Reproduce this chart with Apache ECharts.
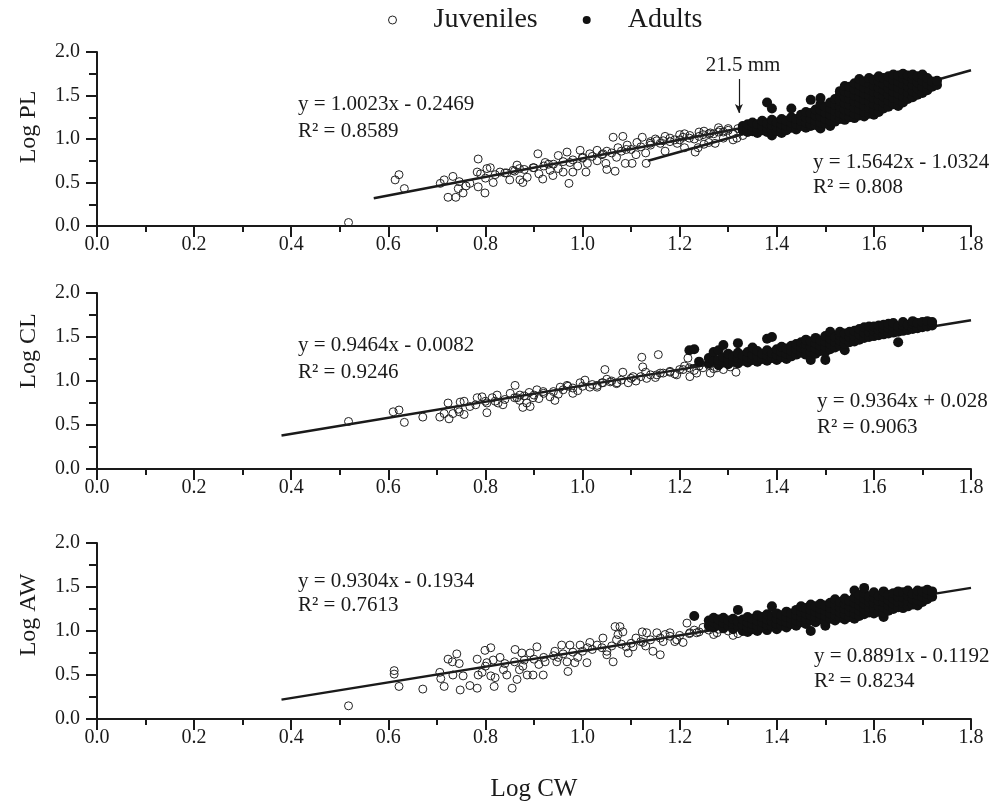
<!DOCTYPE html>
<html>
<head>
<meta charset="utf-8">
<script src="https://cdn.jsdelivr.net/npm/echarts@6/dist/echarts.min.js"></script>
<style>html,body{margin:0;padding:0;background:#fff}#c{width:998px;height:810px}</style>
</head>
<body>
<div id="c"></div>
<script>
// ---- tick labels / axes ----
const xTicks = [0.0, 0.2, 0.4, 0.6, 0.8, 1.0, 1.2, 1.4, 1.6, 1.8];
const yTicks = [0.0, 0.5, 1.0, 1.5, 2.0];
const yNames = ['Log PL', 'Log CL', 'Log AW'];
const xName = 'Log CW';

// ---- Juveniles: [Log CW, Log y] ----
const juvPL = [[0.518,0.04],[0.614,0.53],[0.622,0.59],[0.633,0.43],[0.707,0.49],[0.715,0.53],[0.723,0.33],[0.733,0.57],[0.739,0.33],[0.746,0.51],[0.744,0.43],[0.754,0.38],[0.768,0.49],[0.785,0.77],[0.783,0.62],[0.785,0.45],[0.799,0.38],[0.803,0.66],[0.81,0.67],[0.816,0.50],[0.83,0.62],[0.844,0.61],[0.857,0.64],[0.865,0.70],[0.871,0.53],[0.877,0.50],[0.886,0.56],[0.898,0.67],[0.908,0.83],[0.918,0.54],[0.923,0.73],[0.933,0.64],[0.939,0.58],[0.95,0.81],[0.96,0.62],[0.968,0.85],[0.972,0.49],[0.974,0.73],[0.98,0.62],[0.995,0.87],[1.0,0.79],[1.007,0.62],[1.015,0.83],[1.03,0.87],[1.042,0.83],[1.048,0.72],[1.05,0.65],[1.067,0.63],[1.063,1.02],[1.073,0.90],[1.083,1.03],[1.088,0.72],[1.092,0.93],[1.102,0.72],[1.112,0.96],[1.123,1.02],[1.131,0.72],[1.139,0.95],[1.153,0.98],[1.166,0.98],[1.18,1.01],[1.195,0.95],[1.207,1.02],[1.221,1.04],[1.232,0.85],[1.238,0.90],[1.248,1.05],[1.263,1.07],[1.273,0.95],[1.283,1.10],[1.29,1.01],[1.30,1.12],[1.31,1.06],[1.318,1.01],
[0.82,0.59],[0.84,0.61],[0.86,0.63],[0.88,0.65],[0.90,0.67],[0.92,0.69],[0.94,0.71],[0.96,0.74],[0.98,0.76],[1.00,0.78],[1.02,0.80],[1.04,0.82],[1.06,0.84],[1.08,0.86],[1.10,0.88],[1.12,0.91],[1.14,0.93],[1.16,0.95],[1.18,0.97],[1.20,0.99],[1.22,1.01],[1.24,1.03],[1.26,1.06],[1.28,1.08],[1.30,1.10],[1.32,1.12],[1.15,1.00],[1.19,0.99],[1.23,1.00],[1.27,1.06],[1.25,0.94],[1.21,0.90],[1.17,0.86],[1.13,0.84],[0.76,0.46],[0.80,0.55],[0.79,0.60],[0.85,0.53],[0.87,0.66],[0.91,0.60],[0.93,0.71],[0.95,0.66],[0.99,0.69],[1.01,0.72],[1.03,0.75],[1.05,0.86],[1.07,0.79],[1.09,0.88],[1.11,0.82],[1.20,1.05],[1.26,0.96],[1.29,1.08],[1.33,1.04],[1.31,0.99],[1.17,1.03],[1.21,1.06],[1.25,1.09],[1.28,1.13],[1.14,0.97],[1.24,1.08]];

const juvCL = [[0.518,0.54],[0.61,0.65],[0.622,0.67],[0.633,0.53],[0.671,0.59],[0.706,0.59],[0.715,0.63],[0.723,0.75],[0.725,0.57],[0.733,0.63],[0.744,0.68],[0.746,0.65],[0.748,0.76],[0.756,0.77],[0.756,0.62],[0.768,0.71],[0.783,0.81],[0.793,0.82],[0.803,0.64],[0.803,0.75],[0.814,0.81],[0.824,0.84],[0.826,0.75],[0.836,0.73],[0.851,0.86],[0.861,0.95],[0.865,0.81],[0.871,0.84],[0.877,0.70],[0.885,0.75],[0.892,0.71],[0.898,0.81],[0.906,0.90],[0.919,0.88],[0.933,0.82],[0.943,0.78],[0.954,0.93],[0.968,0.95],[0.98,0.86],[0.995,0.98],[1.005,1.01],[1.015,0.93],[1.03,0.93],[1.042,0.98],[1.046,1.13],[1.057,0.99],[1.071,0.98],[1.083,1.10],[1.094,0.98],[1.104,1.05],[1.122,1.27],[1.124,1.16],[1.132,1.03],[1.156,1.30],[1.153,1.07],[1.166,1.09],[1.18,1.10],[1.194,1.07],[1.207,1.13],[1.217,1.26],[1.221,1.05],[1.235,1.09],[1.248,1.15],[1.263,1.09],[1.277,1.15],[1.29,1.13],[1.304,1.16],[1.316,1.10],
[0.78,0.73],[0.80,0.77],[0.82,0.77],[0.84,0.79],[0.86,0.81],[0.88,0.83],[0.90,0.84],[0.92,0.86],[0.94,0.88],[0.96,0.90],[0.98,0.92],[1.00,0.94],[1.02,0.96],[1.04,0.98],[1.06,1.00],[1.08,1.01],[1.10,1.03],[1.12,1.05],[1.14,1.07],[1.16,1.09],[1.18,1.11],[1.20,1.13],[1.22,1.15],[1.24,1.17],[1.26,1.18],[1.28,1.20],[1.30,1.22],[0.87,0.78],[0.91,0.80],[0.95,0.85],[0.99,0.89],[1.03,0.95],[1.07,0.97],[1.11,1.00],[1.15,1.04],[1.19,1.08],[1.23,1.12],[1.27,1.14],[0.89,0.87],[0.97,0.94],[1.05,1.02],[1.13,1.10],[1.21,1.17]];

const juvAW = [[0.518,0.15],[0.612,0.55],[0.612,0.51],[0.622,0.37],[0.671,0.34],[0.706,0.53],[0.708,0.46],[0.715,0.37],[0.723,0.68],[0.732,0.65],[0.733,0.50],[0.741,0.74],[0.746,0.63],[0.748,0.33],[0.754,0.49],[0.768,0.38],[0.783,0.68],[0.783,0.35],[0.785,0.50],[0.799,0.78],[0.793,0.53],[0.803,0.64],[0.811,0.81],[0.811,0.49],[0.816,0.67],[0.818,0.37],[0.82,0.47],[0.837,0.56],[0.844,0.50],[0.855,0.35],[0.861,0.79],[0.865,0.45],[0.875,0.75],[0.877,0.60],[0.886,0.50],[0.892,0.75],[0.898,0.50],[0.906,0.82],[0.919,0.50],[0.923,0.65],[0.943,0.77],[0.947,0.65],[0.957,0.84],[0.968,0.65],[0.97,0.54],[0.974,0.84],[0.984,0.64],[0.995,0.84],[1.009,0.64],[1.015,0.87],[1.03,0.84],[1.042,0.92],[1.05,0.73],[1.063,0.65],[1.067,1.05],[1.077,1.05],[1.073,0.96],[1.083,0.99],[1.09,0.82],[1.094,0.75],[1.104,0.82],[1.123,0.99],[1.125,0.87],[1.132,0.98],[1.145,0.77],[1.153,0.98],[1.16,0.73],[1.166,0.88],[1.18,0.98],[1.194,0.90],[1.207,0.87],[1.215,1.09],[1.221,0.98],[1.235,0.98],[1.248,1.04],[1.263,1.05],[1.277,0.98],[1.29,1.04],[1.31,0.95],
[0.80,0.60],[0.84,0.63],[0.86,0.65],[0.88,0.67],[0.90,0.68],[0.92,0.70],[0.94,0.72],[0.96,0.74],[0.98,0.76],[1.00,0.77],[1.02,0.79],[1.04,0.81],[1.06,0.83],[1.08,0.85],[1.10,0.86],[1.12,0.88],[1.14,0.90],[1.16,0.92],[1.18,0.94],[1.20,0.95],[1.22,0.97],[1.24,0.99],[1.26,1.01],[1.28,1.02],[0.83,0.70],[0.87,0.56],[0.91,0.62],[0.95,0.70],[0.99,0.70],[1.01,0.81],[1.05,0.77],[1.07,0.90],[1.11,0.92],[1.13,0.83],[1.17,0.96],[1.19,0.88],[1.23,1.01],[1.27,0.96],[1.30,1.00],[1.32,0.97]];

// ---- Adults: columns [Log CW, y1, y2, ...] ----
const adultsPL = [[1.33,1.10,1.15],[1.34,1.08,1.12,1.17],[1.35,1.09,1.14,1.19],[1.36,1.07,1.12,1.17],[1.37,1.10,1.15,1.21],[1.38,1.08,1.13,1.18,1.42],[1.39,1.04,1.10,1.16,1.22,1.35],[1.40,1.09,1.14,1.19],[1.41,1.07,1.12,1.17,1.23],[1.42,1.10,1.15,1.21],[1.43,1.13,1.19,1.25,1.35],[1.44,1.11,1.17,1.23],[1.45,1.15,1.21,1.28],[1.46,1.13,1.19,1.25,1.31],[1.47,1.15,1.17,1.23,1.30,1.45],[1.48,1.16,1.21,1.27,1.34],[1.49,1.12,1.19,1.26,1.33,1.40,1.47],[1.50,1.18,1.23,1.30,1.37],[1.51,1.15,1.21,1.28,1.35,1.42],[1.52,1.20,1.25,1.32,1.39,1.46],[1.53,1.23,1.30,1.37,1.44,1.51,1.55],[1.54,1.22,1.27,1.34,1.41,1.48,1.55,1.61],[1.55,1.25,1.32,1.39,1.46,1.53,1.60],[1.56,1.24,1.29,1.36,1.43,1.50,1.57,1.64],[1.57,1.27,1.34,1.41,1.48,1.55,1.62,1.69],[1.58,1.26,1.31,1.38,1.45,1.52,1.59,1.66],[1.59,1.29,1.36,1.43,1.50,1.57,1.64,1.70],[1.60,1.28,1.33,1.40,1.47,1.54,1.61,1.68],[1.61,1.31,1.38,1.45,1.52,1.59,1.66,1.72],[1.62,1.35,1.42,1.49,1.56,1.63,1.70],[1.63,1.37,1.44,1.51,1.58,1.65,1.72],[1.64,1.40,1.47,1.54,1.61,1.68,1.74],[1.65,1.38,1.45,1.52,1.59,1.66,1.73],[1.66,1.42,1.49,1.56,1.63,1.70,1.75],[1.67,1.46,1.53,1.60,1.67,1.73],[1.68,1.48,1.55,1.62,1.69,1.74],[1.69,1.51,1.58,1.65,1.72],[1.70,1.53,1.60,1.67,1.74],[1.71,1.56,1.63,1.70],[1.72,1.60,1.66],[1.73,1.62,1.67]];

const adultsCL = [[1.22,1.35],[1.23,1.36],[1.24,1.22],[1.26,1.20,1.26],[1.27,1.23,1.33],[1.28,1.18,1.24,1.35],[1.29,1.21,1.27,1.41],[1.30,1.19,1.25,1.31],[1.31,1.22,1.28],[1.32,1.20,1.26,1.32,1.43],[1.33,1.23,1.29],[1.34,1.21,1.27,1.33],[1.35,1.24,1.30,1.38],[1.36,1.22,1.28,1.34],[1.37,1.25,1.31],[1.38,1.23,1.29,1.35,1.48],[1.39,1.26,1.32,1.50],[1.40,1.24,1.30,1.36],[1.41,1.27,1.33,1.39],[1.42,1.25,1.31,1.37],[1.43,1.28,1.34,1.40],[1.44,1.30,1.36,1.42],[1.45,1.32,1.38,1.44],[1.46,1.30,1.36,1.42,1.47],[1.47,1.24,1.33,1.39,1.45],[1.48,1.31,1.37,1.43,1.49],[1.49,1.34,1.40,1.46],[1.50,1.24,1.33,1.39,1.45,1.51],[1.51,1.36,1.42,1.48,1.56],[1.52,1.38,1.44,1.50],[1.53,1.40,1.46,1.52,1.56],[1.54,1.35,1.42,1.48,1.54],[1.55,1.44,1.50,1.56],[1.56,1.45,1.51,1.57],[1.57,1.47,1.53,1.59],[1.58,1.49,1.55,1.61],[1.59,1.50,1.56,1.62],[1.60,1.51,1.57,1.62],[1.61,1.52,1.58,1.63],[1.62,1.53,1.59,1.64],[1.63,1.54,1.60,1.65],[1.64,1.55,1.61,1.66],[1.65,1.44,1.56,1.62],[1.66,1.57,1.63,1.67],[1.67,1.58,1.64],[1.68,1.59,1.65,1.68],[1.69,1.60,1.66],[1.70,1.61,1.67],[1.71,1.62,1.68],[1.72,1.63,1.67]];

const adultsAW = [[1.23,1.17],[1.26,1.06,1.12],[1.27,1.04,1.10,1.15],[1.28,1.07,1.13],[1.29,1.03,1.09,1.15],[1.30,1.06,1.12],[1.31,1.02,1.08,1.14],[1.32,1.05,1.11,1.24],[1.33,1.00,1.07,1.13],[1.34,0.99,1.04,1.10,1.16],[1.35,1.02,1.08,1.14],[1.36,1.00,1.06,1.12,1.18],[1.37,1.04,1.10,1.16],[1.38,1.01,1.07,1.13,1.19],[1.39,1.05,1.11,1.17,1.28],[1.40,1.02,1.08,1.14,1.20],[1.41,1.06,1.12,1.18],[1.42,1.04,1.10,1.16,1.22],[1.43,1.08,1.14,1.20],[1.44,1.06,1.12,1.18,1.24],[1.45,1.10,1.16,1.22,1.28],[1.46,1.08,1.14,1.20,1.26],[1.47,1.00,1.12,1.18,1.24,1.30],[1.48,1.10,1.16,1.22,1.28],[1.49,1.13,1.19,1.25,1.31],[1.50,1.06,1.11,1.17,1.23,1.29],[1.51,1.14,1.20,1.26,1.32],[1.52,1.12,1.18,1.24,1.30,1.36],[1.53,1.15,1.21,1.27,1.33],[1.54,1.13,1.19,1.25,1.31,1.37],[1.55,1.16,1.22,1.28,1.34],[1.56,1.14,1.20,1.26,1.32,1.38,1.46],[1.57,1.17,1.23,1.29,1.35,1.41],[1.58,1.19,1.25,1.31,1.37,1.43,1.49],[1.59,1.21,1.27,1.33,1.39],[1.60,1.20,1.26,1.32,1.38,1.44],[1.61,1.22,1.28,1.34,1.40],[1.62,1.16,1.21,1.27,1.33,1.39,1.45],[1.63,1.23,1.29,1.35,1.41],[1.64,1.25,1.31,1.37,1.43],[1.65,1.27,1.33,1.39,1.45],[1.66,1.26,1.32,1.38,1.44],[1.67,1.28,1.34,1.40,1.46],[1.68,1.30,1.36,1.42],[1.69,1.29,1.35,1.41,1.46],[1.70,1.33,1.39,1.45],[1.71,1.36,1.42,1.47],[1.72,1.39,1.45]];

// ---- fitted lines (endpoints) ----
const fitJuv = [[[0.57,0.32],[1.33,1.13]], [[0.38,0.38],[1.32,1.24]], [[0.38,0.22],[1.30,1.04]]];
const fitAd  = [[[1.135,0.75],[1.80,1.79]], [[1.22,1.17],[1.80,1.69]], [[1.26,1.01],[1.80,1.49]]];

// ---- equation texts ----
const eqJuv = [['y = 1.0023x - 0.2469','R\u00B2 = 0.8589'],['y = 0.9464x - 0.0082','R\u00B2 = 0.9246'],['y = 0.9304x - 0.1934','R\u00B2 = 0.7613']];
const eqAd  = [['y = 1.5642x - 1.0324','R\u00B2 = 0.808'],['y = 0.9364x + 0.028','R\u00B2 = 0.9063'],['y = 0.8891x - 0.1192','R\u00B2 = 0.8234']];
const breakLabel = '21.5 mm';
const breakX = 1.322;

function flatten(cols){ const out=[]; cols.forEach(c=>{ for(let i=1;i<c.length;i++) out.push([c[0],c[i]]); }); return out; }
const juv = [juvPL, juvCL, juvAW];
const adults = [flatten(adultsPL), flatten(adultsCL), flatten(adultsAW)];

const FONT = '"Liberation Serif","Times New Roman",serif';
const INK = '#1a1a1a';
const grids = [
  {left:97, width:874, top:52, height:174},
  {left:97, width:874, top:293, height:176},
  {left:97, width:874, top:543, height:176}
];
const namePad = [24, 60, 32];

const xAxes = grids.map((g,i)=>({
  type:'value', gridIndex:i, min:xTicks[0], max:xTicks[xTicks.length-1], interval:0.2,
  axisLine:{onZero:false, lineStyle:{color:INK, width:2}},
  axisTick:{show:true, length:11, lineStyle:{color:INK, width:2}},
  minorTick:{show:true, splitNumber:2, length:6, lineStyle:{color:INK, width:2}},
  splitLine:{show:false}, minorSplitLine:{show:false},
  axisLabel:{margin:9, fontSize:20, fontFamily:FONT, color:INK, formatter:v=>v.toFixed(1)},
  name: i===2 ? xName : '', nameLocation:'middle', nameGap:58,
  nameTextStyle:{fontSize:25, fontFamily:FONT, color:INK}
}));
const yAxes = grids.map((g,i)=>({
  type:'value', gridIndex:i, min:yTicks[0], max:yTicks[yTicks.length-1], interval:0.5,
  axisLine:{onZero:false, lineStyle:{color:INK, width:2}},
  axisTick:{show:true, length:11, lineStyle:{color:INK, width:2}},
  minorTick:{show:true, splitNumber:2, length:8, lineStyle:{color:INK, width:2}},
  splitLine:{show:false}, minorSplitLine:{show:false},
  axisLabel:{margin:17, fontSize:20, fontFamily:FONT, color:INK, formatter:v=>v.toFixed(1)},
  name: yNames[i], nameLocation:'middle', nameGap:56, nameRotate:90,
  nameTextStyle:{fontSize:24, fontFamily:FONT, color:INK, padding:[0,0,0,namePad[i]]}
}));

const series = [];
for (let i=0;i<3;i++){
  series.push({name:'Juvenile fit '+(i+1), type:'line', xAxisIndex:i, yAxisIndex:i, data:fitJuv[i], symbol:'none', silent:true,
    lineStyle:{color:INK, width:2.5}, z:2});
  series.push({name:'Adult fit '+(i+1), type:'line', xAxisIndex:i, yAxisIndex:i, data:fitAd[i], symbol:'none', silent:true,
    lineStyle:{color:INK, width:2.5}, z:2});
  series.push({name:'Juveniles', type:'scatter', xAxisIndex:i, yAxisIndex:i, data:juv[i], symbol:'circle', symbolSize:8,
    itemStyle:{color:'rgba(255,255,255,0)', borderColor:'#222', borderWidth:1, opacity:1}, z:3});
  const ad = {name:'Adults', type:'scatter', xAxisIndex:i, yAxisIndex:i, data:adults[i], symbol:'circle', symbolSize:10,
    itemStyle:{color:'#111', opacity:1}, z:4};
  if (i===0){
    ad.markLine = {silent:true, symbol:['none','arrow'], symbolSize:[6,9], label:{show:false},
      lineStyle:{color:INK, width:1.2, type:'solid', opacity:1},
      data:[[{coord:[breakX,1.69]},{coord:[breakX,1.30]}]]};
  }
  series.push(ad);
}

const txt = (text, x, y, align) => ({type:'text', x:0, y:0, silent:true, style:{text, x, y, font:'21px '+FONT, fill:INK,
  textAlign:align||'left', align:align||'left', textVerticalAlign:'middle', verticalAlign:'middle'}});
const eqPos = [
  {jx:298, jy:[104,131], ax:813, ay:[162,187]},
  {jx:298, jy:[345,372], ax:817, ay:[401,427]},
  {jx:298, jy:[581,605], ax:814, ay:[656,681]}
];
const graphics = [];
eqPos.forEach((p,i)=>{
  graphics.push(txt(eqJuv[i][0], p.jx, p.jy[0]));
  graphics.push(txt(eqJuv[i][1], p.jx, p.jy[1]));
  graphics.push(txt(eqAd[i][0], p.ax, p.ay[0]));
  graphics.push(txt(eqAd[i][1], p.ax, p.ay[1]));
});
graphics.push(txt(breakLabel, 743, 65, 'center'));

const chart = echarts.init(document.getElementById('c'), null, {renderer:'canvas'});
chart.setOption({
  animation:false,
  backgroundColor:'#fff',
  legend:{top:6, left:388, padding:0, itemWidth:8, itemHeight:8, itemGap:45,
    textStyle:{fontSize:28, fontFamily:FONT, color:INK, padding:[0,0,0,32]},
    data:[{name:'Juveniles', icon:'circle', itemStyle:{color:'rgba(255,255,255,0)', borderColor:'#222', borderWidth:1, opacity:1}},
          {name:'Adults', icon:'circle', itemStyle:{color:'#111', opacity:1}}]},
  grid:grids, xAxis:xAxes, yAxis:yAxes, series, graphic:graphics
});
</script>
</body>
</html>
